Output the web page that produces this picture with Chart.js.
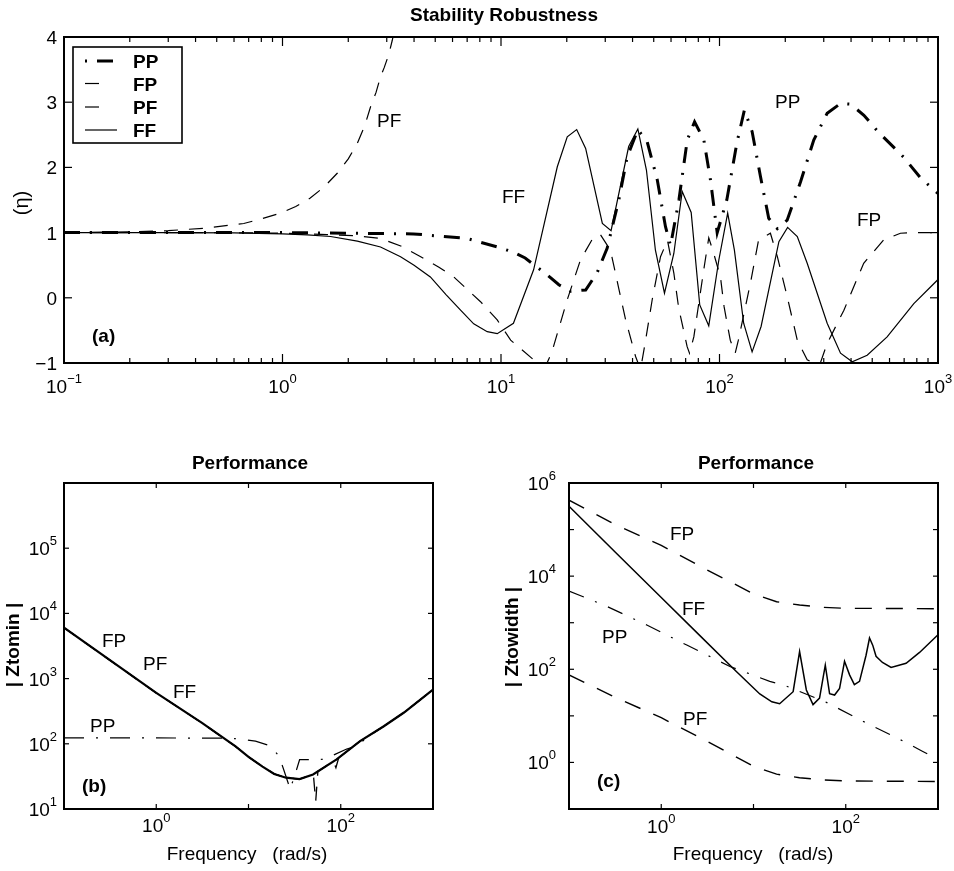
<!DOCTYPE html>
<html>
<head>
<meta charset="utf-8">
<script src="https://cdn.jsdelivr.net/npm/chart.js@4.4.0/dist/chart.umd.min.js"></script>
<style>
  body { margin: 0; background: #fff; width: 954px; height: 871px; position: relative; overflow: hidden; }
  canvas { position: absolute; }
</style>
</head>
<body>
<canvas id="chartA" width="954" height="410" style="left:0;top:0"></canvas>
<canvas id="chartB" width="477" height="441" style="left:0;top:430px"></canvas>
<canvas id="chartC" width="477" height="441" style="left:477px;top:430px"></canvas>
<script>
const FONT = '"Liberation Sans", Arial, Helvetica, sans-serif'

// (a) Stability Robustness, eta vs frequency (rad/s)
const aFreqPP = [0.1, 1.0, 3.98, 7.0, 9.61, 11.4, 12.9, 16.3, 18.4, 20.8, 24.4, 27.5, 30.6, 34.6, 37.8, 42.3, 46.7, 51.9, 56.6, 59.7, 65.2, 71.2, 76.9, 84.8, 90.9, 97.6, 108, 120, 130, 141, 154, 168, 184, 204, 235, 270, 311, 358, 398, 458, 534, 695, 832, 1000]
const aPP = [1.0, 1.0, 0.98, 0.91, 0.78, 0.70, 0.61, 0.35, 0.20, 0.10, 0.12, 0.38, 0.76, 1.50, 2.16, 2.58, 2.39, 1.81, 1.09, 0.80, 1.50, 2.42, 2.70, 2.42, 1.81, 1.00, 1.50, 2.37, 2.88, 2.55, 1.86, 1.22, 1.06, 1.19, 1.78, 2.42, 2.83, 2.98, 2.97, 2.80, 2.54, 2.16, 1.84, 1.60]
const aFreqFP = [0.1, 0.5, 1.0, 1.6, 2.2, 2.81, 3.5, 4.29, 5.2, 6.08, 7.0, 8.06, 9.61, 11.07, 14.1, 15.2, 16.0, 17.1, 20.1, 23.1, 26.5, 28.5, 31.7, 34.5, 37.2, 41.3, 43.5, 45.8, 49.2, 53.7, 57.8, 61.8, 65.0, 71.1, 72.9, 76.3, 84.7, 89.3, 93.7, 101, 105, 112, 118, 122, 139, 151, 171, 184, 204, 227, 252, 269, 290, 311, 371, 457, 565, 673, 775, 1000]
const aFP = [1.0, 1.0, 0.99, 0.97, 0.95, 0.91, 0.79, 0.63, 0.47, 0.32, 0.13, -0.06, -0.34, -0.65, -0.95, -1.0, -1.05, -0.83, -0.03, 0.58, 0.93, 0.97, 0.73, 0.16, -0.34, -0.9, -1.1, -0.67, -0.03, 0.63, 0.88, 0.38, -0.15, -0.75, -0.85, -0.6, 0.43, 0.92, 0.7, 0.32, -0.14, -0.65, -0.85, -0.65, 0.25, 0.89, 0.99, 0.63, 0.02, -0.65, -0.95, -1.0, -0.99, -0.70, -0.19, 0.53, 0.89, 0.99, 1.0, 1.0]
const aFreqPF = [0.1, 0.2, 0.3, 0.45, 0.665, 0.8, 0.98, 1.15, 1.34, 1.55, 1.78, 2.0, 2.20, 2.38, 2.53, 2.68, 2.81, 2.92, 3.02, 3.1, 3.18, 3.3]
const aPF = [1.0, 1.01, 1.03, 1.07, 1.14, 1.21, 1.30, 1.40, 1.53, 1.70, 1.91, 2.13, 2.37, 2.64, 2.93, 3.15, 3.39, 3.53, 3.67, 3.80, 3.95, 4.2]
const aFreqFF = [0.1, 0.3, 0.6, 1.0, 1.3, 1.66, 2.2, 2.81, 3.47, 4.0, 4.75, 5.6, 6.53, 7.5, 8.65, 9.61, 11.4, 14.1, 18.1, 20.1, 22.2, 24.4, 29.1, 31.9, 38.4, 42.3, 46.3, 50.9, 56.0, 61.8, 67.5, 74.2, 81.2, 89.3, 99.3, 109, 117, 129, 141, 155, 187, 205, 227, 252, 311, 358, 405, 474, 585, 775, 1000]
const aFF = [1.0, 1.0, 0.995, 0.98, 0.965, 0.94, 0.87, 0.78, 0.63, 0.50, 0.32, 0.05, -0.19, -0.40, -0.52, -0.55, -0.39, 0.43, 2.01, 2.47, 2.58, 2.29, 1.14, 1.03, 2.32, 2.59, 1.96, 0.73, 0.07, 0.68, 1.63, 1.31, -0.11, -0.43, 0.58, 1.30, 0.73, -0.39, -0.83, -0.44, 0.86, 1.08, 0.94, 0.53, -0.39, -0.85, -0.98, -0.88, -0.60, -0.09, 0.28]
const aYTicks = [-1, 0, 1, 2, 3, 4]
const aXExps = [-1, 0, 1, 2, 3]

// (b) Performance |Ztomin|
const bFreqFF = [0.1, 1, 3.13, 7.24, 10, 14.2, 19, 25.5, 35.8, 50.1, 90.2, 162, 293, 485, 1000]
const bFF = [6026, 603, 209, 91, 63, 44.7, 34.5, 30.2, 28.8, 33.9, 57.5, 110, 186, 302, 676]
const bFreqFP = [0.1, 1, 3.13, 7.24, 10, 14.2, 19, 25.5, 35.8, 47, 50.5, 53.5, 56.5, 90.2, 162, 293, 485, 1000]
const bFP = [6026, 603, 209, 91, 63, 44.7, 34.5, 30.2, 28.8, 32.9, 34, 13, 37.7, 57.5, 110, 186, 302, 676]
const bFreqPF = [0.1, 1, 3.13, 7.24, 10, 14.2, 19, 25.5, 35.8, 50.1, 83, 88.6, 95, 162, 293, 485, 1000]
const bPF = [6026, 603, 209, 91, 63, 44.7, 34.5, 30.2, 28.8, 33.9, 53.7, 43, 61, 110, 186, 302, 676]
const bFreqPP = [0.1, 1, 5, 8, 11.9, 16.9, 21.2, 23.7, 26.9, 28.2, 31.6, 35.8, 45, 66, 116, 151, 190, 293, 485, 1000]
const bPP = [123, 123, 122, 119, 110, 94, 66, 43, 25, 20, 32, 57, 57, 58, 83, 93, 123, 186, 302, 676]
const bXLabelExps = [0, 2]
const bYLabelExps = [1, 2, 3, 4, 5]

// (c) Performance |Ztowidth|
const cFreqFF = [0.1, 0.316, 1, 2.51, 6.31, 11.7, 15.8, 19.2, 26.9, 31.6, 37.4, 44.2, 52, 60, 66.8, 75.7, 85.7, 97, 110, 124, 141, 166, 181, 196, 213, 250, 310, 451, 631, 1000]
const cFF = [3.16e5, 3.3e4, 3470, 575, 95, 29.5, 20, 18.2, 33, 240, 36, 17.4, 24, 123, 30, 28, 39, 148, 76, 47, 55, 200, 470, 330, 190, 140, 110, 135, 230, 550]
const cFreqFP = [0.1, 0.316, 1, 3.16, 10, 17.8, 31.6, 56.2, 100, 1000]
const cFP = [4.27e5, 1.29e5, 4.57e4, 1.35e4, 4170, 2820, 2400, 2140, 2040, 2000]
const cFreqPF = [0.1, 0.316, 1, 3.16, 10, 17.8, 31.6, 56.2, 100, 1000]
const cPF = [75.9, 25.1, 9.12, 2.82, 0.83, 0.56, 0.47, 0.42, 0.40, 0.39]
const cFreqPP = [0.1, 0.258, 0.697, 1.89, 5.55, 15.0, 21.9, 61.7, 155, 427, 676, 1000]
const cPP = [4790, 2240, 891, 331, 115, 55, 44.7, 19.5, 7.59, 2.82, 1.74, 1.17]
const cXLabelExps = [0, 2]
const cYLabelExps = [0, 2, 4, 6]

function series(freq, vals) {
  return freq.map((f, i) => ({ x: f, y: vals[i] }))
}

function lineSet(label, freq, vals, width, dash) {
  return {
    label,
    data: series(freq, vals),
    borderColor: '#000',
    borderWidth: width,
    borderDash: dash || [],
    borderCapStyle: 'butt',
    pointRadius: 0,
    tension: 0,
    fill: false,
  }
}

function seg(ctx, x1, y1, x2, y2) {
  ctx.beginPath()
  ctx.moveTo(x1, y1)
  ctx.lineTo(x2, y2)
  ctx.stroke()
}

function text(ctx, s, x, y, opts = {}) {
  const { bold = false, size = 19, align = 'left', base = 'alphabetic', rot = 0 } = opts
  ctx.save()
  ctx.font = (bold ? 'bold ' : '') + size + 'px ' + FONT
  ctx.textAlign = align
  ctx.textBaseline = base
  ctx.translate(x, y)
  if (rot) ctx.rotate(rot)
  ctx.fillText(s, 0, 0)
  ctx.restore()
}

// "10" with a raised exponent; y is the baseline of "10"
function powLabel(ctx, exp, x, y, align) {
  const sup = String(exp).replace('-', '\u2212')
  ctx.font = '19px ' + FONT
  const wb = ctx.measureText('10').width
  ctx.font = '13px ' + FONT
  const ws = ctx.measureText(sup).width
  const left = align === 'center' ? x - (wb + ws) / 2 : x - (wb + ws)
  text(ctx, '10', left, y)
  text(ctx, sup, left + wb, y - 10, { size: 13 })
}

function framePlugin(cfg) {
  return {
    id: 'frame',
    afterDraw(chart) {
      const { ctx, chartArea: a } = chart
      const x = chart.scales.x
      const y = chart.scales.y
      ctx.save()
      ctx.strokeStyle = '#000'
      ctx.fillStyle = '#000'
      ctx.setLineDash([])
      ctx.lineWidth = 1.2
      cfg.xTicks.forEach(([v, len]) => {
        const px = x.getPixelForValue(v)
        seg(ctx, px, a.bottom, px, a.bottom - len)
        seg(ctx, px, a.top, px, a.top + len)
      })
      cfg.yTicks.forEach(([v, len]) => {
        const py = y.getPixelForValue(v)
        seg(ctx, a.left, py, a.left + len, py)
        seg(ctx, a.right, py, a.right - len, py)
      })
      ctx.lineWidth = 2
      ctx.strokeRect(a.left, a.top, a.right - a.left, a.bottom - a.top)

      cfg.xLabels.forEach(e => powLabel(ctx, e, x.getPixelForValue(10 ** e), a.bottom + cfg.xLabelDy, 'center'))
      if (cfg.yLinear) {
        cfg.yLinear.forEach(v => text(ctx, String(v).replace('-', '\u2212'), a.left - 7, y.getPixelForValue(v) + 7, { align: 'right' }))
      } else {
        cfg.yLabels.forEach(e => powLabel(ctx, e, a.left - cfg.yLabelDx, y.getPixelForValue(10 ** e) + 7, 'right'))
      }
      cfg.texts.forEach(t => text(ctx, t.s, t.x, t.y, t))
      if (cfg.legend) cfg.legend(ctx)
      ctx.restore()
    },
  }
}

const styleA = {
  PP: { width: 3, dash: [16, 10, 2, 10] },
  FP: { width: 1.2, dash: [14, 11] },
  PF: { width: 1.2, dash: [14, 11] },
  FF: { width: 1.2, dash: [] },
}

function drawLegendA(ctx) {
  ctx.lineWidth = 1.6
  ctx.setLineDash([])
  ctx.strokeRect(73, 47, 109, 96)
  const rows = [['PP', 61, 85, 115, 26], ['FP', 83.5, 85, 101, 0], ['PF', 107, 85, 101, 0], ['FF', 130, 85, 117, 0]]
  rows.forEach(([name, ry, x1, x2, off]) => {
    const st = styleA[name]
    ctx.lineWidth = st.width
    ctx.setLineDash(st.dash)
    ctx.lineDashOffset = off
    seg(ctx, x1, ry, x2, ry)
    ctx.setLineDash([])
    ctx.lineDashOffset = 0
    text(ctx, name, 133, ry + 7, { bold: true })
  })
}

function baseOptions(padding, yType, yMin, yMax) {
  return {
    responsive: false,
    animation: false,
    layout: { padding },
    plugins: { legend: { display: false }, tooltip: { enabled: false }, title: { display: false } },
    scales: {
      x: { type: 'logarithmic', min: 0.1, max: 1000, display: false },
      y: { type: yType, min: yMin, max: yMax, display: false },
    },
  }
}

function decadeTicks(lo, hi, len) {
  const out = []
  for (let e = lo; e <= hi; e++) out.push([10 ** e, len])
  return out
}

// ----- chart (a)
const aMinor = []
for (let e = -1; e < 3; e++) for (let k = 2; k <= 9; k++) aMinor.push([k * 10 ** e, 5])

new Chart(document.getElementById('chartA'), {
  type: 'line',
  data: {
    datasets: [
      lineSet('PP', aFreqPP, aPP, styleA.PP.width, styleA.PP.dash),
      lineSet('FP', aFreqFP, aFP, styleA.FP.width, styleA.FP.dash),
      lineSet('PF', aFreqPF, aPF, styleA.PF.width, styleA.PF.dash),
      lineSet('FF', aFreqFF, aFF, styleA.FF.width),
    ],
  },
  options: baseOptions({ left: 64, top: 37, right: 16, bottom: 47 }, 'linear', -1, 4),
  plugins: [framePlugin({
    xTicks: decadeTicks(-1, 3, 9).concat(aMinor),
    yTicks: aYTicks.map(v => [v, 8]),
    xLabels: aXExps,
    xLabelDy: 30,
    yLinear: aYTicks,
    texts: [
      { s: 'Stability Robustness', x: 504, y: 21, bold: true, align: 'center' },
      { s: '(\u03b7)', x: 28, y: 203, align: 'center', rot: -Math.PI / 2, size: 20 },
      { s: 'PF', x: 377, y: 127 },
      { s: 'FF', x: 502, y: 203 },
      { s: 'PP', x: 775, y: 108 },
      { s: 'FP', x: 857, y: 226 },
      { s: '(a)', x: 92, y: 342, bold: true },
    ],
    legend: drawLegendA,
  })],
})

// ----- chart (b)
new Chart(document.getElementById('chartB'), {
  type: 'line',
  data: {
    datasets: [
      lineSet('PP', bFreqPP, bPP, 1.2, [20, 12, 2, 12]),
      lineSet('FP', bFreqFP, bFP, 1.3, [14, 11]),
      lineSet('PF', bFreqPF, bPF, 1.3, [14, 11]),
      lineSet('FF', bFreqFF, bFF, 2.2),
    ],
  },
  options: baseOptions({ left: 64, top: 53, right: 44, bottom: 62 }, 'logarithmic', 10, 1e6),
  plugins: [framePlugin({
    xTicks: decadeTicks(-1, 3, 5),
    yTicks: decadeTicks(1, 6, 5),
    xLabels: bXLabelExps,
    xLabelDy: 23,
    yLabels: bYLabelExps,
    yLabelDx: 7,
    texts: [
      { s: 'Performance', x: 250, y: 39, bold: true, align: 'center' },
      { s: 'Frequency   (rad/s)', x: 247, y: 430, align: 'center' },
      { s: '| Ztomin |', x: 19, y: 215, bold: true, align: 'center', rot: -Math.PI / 2 },
      { s: 'FP', x: 102, y: 217 },
      { s: 'PF', x: 143, y: 240 },
      { s: 'FF', x: 173, y: 268 },
      { s: 'PP', x: 90, y: 302 },
      { s: '(b)', x: 82, y: 362, bold: true },
    ],
  })],
})

// ----- chart (c)
new Chart(document.getElementById('chartC'), {
  type: 'line',
  data: {
    datasets: [
      lineSet('PP', cFreqPP, cPP, 1.2, [16, 12, 2, 12]),
      lineSet('FP', cFreqFP, cFP, 1.4, [17, 14]),
      lineSet('PF', cFreqPF, cPF, 1.4, [17, 14]),
      lineSet('FF', cFreqFF, cFF, 1.5),
    ],
  },
  options: baseOptions({ left: 92, top: 53, right: 16, bottom: 62 }, 'logarithmic', 0.1, 1e6),
  plugins: [framePlugin({
    xTicks: decadeTicks(-1, 3, 5),
    yTicks: decadeTicks(-1, 6, 5),
    xLabels: cXLabelExps,
    xLabelDy: 24,
    yLabels: cYLabelExps,
    yLabelDx: 13,
    texts: [
      { s: 'Performance', x: 279, y: 39, bold: true, align: 'center' },
      { s: 'Frequency   (rad/s)', x: 276, y: 430, align: 'center' },
      { s: '| Ztowidth |', x: 41, y: 207, bold: true, align: 'center', rot: -Math.PI / 2 },
      { s: 'FP', x: 193, y: 110 },
      { s: 'FF', x: 205, y: 185 },
      { s: 'PP', x: 125, y: 213 },
      { s: 'PF', x: 206, y: 295 },
      { s: '(c)', x: 120, y: 357, bold: true },
    ],
  })],
})
</script>
</body>
</html>
